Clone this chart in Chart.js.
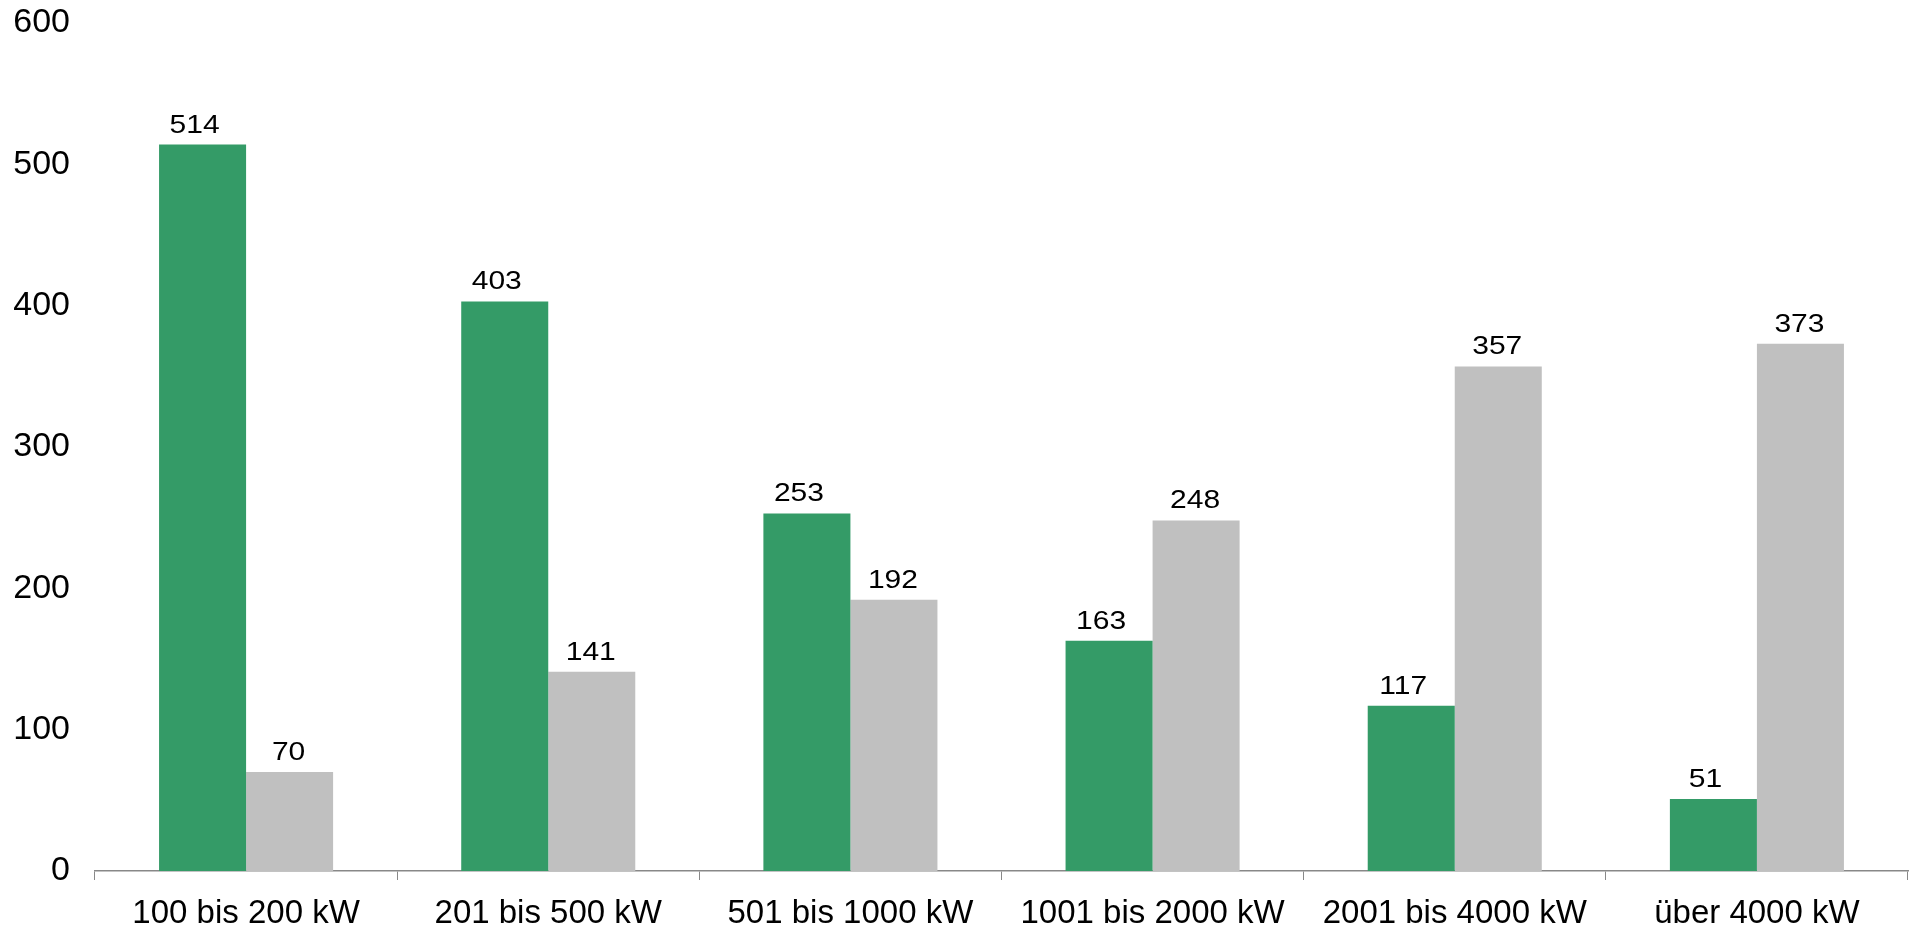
<!DOCTYPE html>
<html>
<head>
<meta charset="utf-8">
<script src="https://cdn.jsdelivr.net/npm/chart.js@4"></script>
<style>
  html, body { margin: 0; padding: 0; background: #ffffff; }
  #wrap { width: 1912px; height: 933px; position: relative; }
</style>
</head>
<body>
<div id="wrap"><canvas id="c"></canvas></div>
<script>
const categories = ["100 bis 200 kW", "201 bis 500 kW", "501 bis 1000 kW", "1001 bis 2000 kW", "2001 bis 4000 kW", "über 4000 kW"];
const seriesGreen = [514, 403, 253, 163, 117, 51];
const seriesGray = [70, 141, 192, 248, 357, 373];
const yTicks = [0, 100, 200, 300, 400, 500, 600];

const FONT = '"Liberation Sans", Arial, sans-serif';

const valueLabels = {
  id: 'valueLabels',
  afterDatasetsDraw(chart) {
    const ctx = chart.ctx;
    chart.data.datasets.forEach((ds, i) => {
      const meta = chart.getDatasetMeta(i);
      const dx = i === 0 ? -8 : -1;
      meta.data.forEach((bar, j) => {
        ctx.save();
        ctx.font = '25px ' + FONT;
        ctx.fillStyle = '#000000';
        ctx.textAlign = 'center';
        ctx.textBaseline = 'alphabetic';
        ctx.translate(bar.x + dx, bar.y - 12);
        ctx.scale(1.2, 1);
        ctx.fillText(String(ds.data[j]), 0, 0);
        ctx.restore();
      });
    });
  }
};

new Chart(document.getElementById('c'), {
  type: 'bar',
  data: {
    labels: categories,
    datasets: [
      { data: seriesGreen, backgroundColor: '#349b67', borderWidth: 0 },
      { data: seriesGray, backgroundColor: '#c0c0c0', borderWidth: 0 }
    ]
  },
  options: {
    responsive: true,
    maintainAspectRatio: false,
    animation: false,
    devicePixelRatio: 1,
    layout: { padding: { top: 23, right: 4, left: 0, bottom: 0 } },
    plugins: { legend: { display: false }, tooltip: { enabled: false } },
    datasets: { bar: { categoryPercentage: 0.576, barPercentage: 1.0 } },
    scales: {
      x: {
        afterFit(axis) { axis.height = 62; },
        grid: { display: true, drawOnChartArea: false, drawTicks: true, tickLength: 9, color: '#888888', offset: true },
        border: { display: true, color: '#888888', width: 1.5 },
        ticks: { color: '#000000', font: { family: FONT, size: 33 }, padding: 14, maxRotation: 0 }
      },
      y: {
        min: 0, max: 600,
        afterBuildTicks(axis) { axis.ticks = yTicks.map(v => ({ value: v })); },
        afterFit(axis) { axis.width = 95; axis.paddingTop = 0; axis.paddingBottom = 0; },
        grid: { display: false },
        border: { display: false },
        ticks: { color: '#000000', font: { family: FONT, size: 34 }, padding: 17 }
      }
    }
  },
  plugins: [valueLabels]
});
</script>
</body>
</html>
